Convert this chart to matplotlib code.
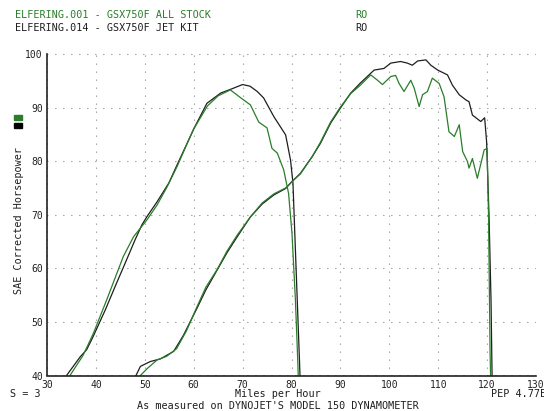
import numpy as np
import matplotlib.pyplot as plt
from matplotlib.patches import Rectangle

# dyno run: ALL STOCK (green) vs JET KIT (black), two traces each
stock_a_mph = [34.2, 34.7, 37.4, 39.5, 42.2, 45.6, 47.7, 49.1, 50.4, 52.5, 54.5, 56.6, 59.0, 60.0,
               62.8, 65.0, 67.5, 69.5, 71.6, 73.3, 75.0, 76.0, 77.1, 78.4, 79.4, 80.1, 80.8, 81.3, 81.5]
stock_a_hp = [39, 40, 43.8, 47.9, 54.1, 62.2, 65.9, 67.5, 69.0, 71.8, 75.1, 79.0, 84.0, 86.0,
              90.3, 92.2, 93.3, 91.9, 90.5, 87.3, 86.2, 82.4, 81.5, 78.4, 74.0, 66.5, 54.1, 42.3, 36]

jet_a_mph = [33.5, 34.0, 36.8, 38.1, 39.3, 41.9, 44.3, 46.0, 48.0, 49.4, 50.4, 52.5, 54.9, 56.6,
             59.0, 60.0, 62.7, 65.5, 67.8, 70.0, 71.5, 73.0, 74.3, 76.4, 78.8, 79.8, 80.3, 80.8,
             81.3, 81.7, 81.9]
jet_a_hp = [39, 40, 43.5, 44.8, 47.0, 52.2, 57.4, 61.0, 65.3, 68.1, 69.6, 72.4, 75.9, 79.3,
            84.0, 86.0, 90.8, 92.7, 93.5, 94.3, 94.0, 93.0, 91.8, 88.3, 84.9, 80.2, 75.9, 63.4,
            51.0, 41.0, 36]

stock_b_mph = [48.7, 49.1, 50.5, 52.5, 54.5, 56.5, 58.5, 60.7, 62.5, 64.8, 66.8, 68.9, 71.6, 74.0,
               76.4, 78.8, 80.1, 81.8, 84.2, 85.9, 88.0, 90.0, 92.1, 94.1, 96.2, 97.6, 98.6, 100.3,
               101.3, 102.0, 103.0, 104.4, 105.1, 106.1, 106.8, 107.8, 108.8, 110.2, 111.2, 112.2,
               113.3, 114.3, 115.0, 116.0, 116.3, 117.0, 118.0, 119.4, 120.0, 120.3, 120.6, 120.8]
stock_b_hp = [39, 40, 41.3, 42.9, 43.6, 45.0, 48.3, 52.9, 56.5, 59.8, 63.2, 66.2, 69.6, 72.2,
              73.9, 75.0, 76.2, 77.6, 80.8, 83.5, 87.3, 90.1, 92.6, 94.2, 96.1, 95.1, 94.3, 95.8,
              96.0, 94.5, 93.0, 95.1, 93.6, 90.2, 92.4, 93.0, 95.5, 94.5, 92.0, 85.5,
              84.6, 86.8, 81.8, 79.9, 78.7, 80.5, 76.8, 82.1, 82.4, 69.6, 44.8, 36]

jet_b_mph = [47.8, 48.2, 49.1, 51.1, 53.2, 55.9, 57.9, 60.7, 62.5, 64.8, 66.8, 68.9, 71.6, 74.0,
             76.4, 78.8, 80.1, 81.8, 84.2, 85.9, 88.0, 90.0, 92.1, 94.1, 96.9, 98.9, 100.3, 102.3,
             103.7, 104.7, 105.8, 107.5, 108.5, 109.9, 111.9, 112.9, 114.3, 115.7, 116.3, 117.0,
             118.7, 119.5, 119.9, 120.4, 120.8, 121.0, 121.1]
jet_b_hp = [39, 40, 41.7, 42.6, 43.1, 44.5, 47.5, 52.6, 56.0, 59.7, 62.9, 65.9, 69.6, 72.0,
            73.7, 74.9, 76.2, 77.7, 80.8, 83.3, 87.1, 89.9, 92.7, 94.6, 97.0, 97.3, 98.3, 98.6,
            98.3, 97.9, 98.7, 98.9, 97.9, 97.0, 96.1, 94.2, 92.4, 91.4, 91.1, 88.6,
            87.4, 88.1, 83.6, 69.6, 54.1, 41.0, 36]

xticks = [30, 40, 50, 60, 70, 80, 90, 100, 110, 120, 130]
yticks = [40, 50, 60, 70, 80, 90, 100]

GREEN = '#2a7d2a'
BLACK = '#1e1e1e'
W, H = 544, 411


def fx(px):
    return px / W


def fy(py):
    return 1 - py / H


fig = plt.figure(figsize=(5.44, 4.11), dpi=100)
ax = fig.add_axes([fx(47), fy(375.5), (536 - 47) / W, (375.5 - 54) / H])

ax.plot(jet_a_mph, jet_a_hp, color=BLACK, lw=0.9)
ax.plot(jet_b_mph, jet_b_hp, color=BLACK, lw=0.9)
ax.plot(stock_a_mph, stock_a_hp, color=GREEN, lw=0.9)
ax.plot(stock_b_mph, stock_b_hp, color=GREEN, lw=0.9)

ax.set_xlim(30, 130)
ax.set_ylim(40, 100)
ax.set_xticks(xticks)
ax.set_yticks(yticks)
ax.tick_params(length=0, labelsize=7, pad=3, colors='#222222')
for lab in ax.get_xticklabels() + ax.get_yticklabels():
    lab.set_family('DejaVu Sans Mono')
ax.grid(True, color='#555555', lw=0.8, linestyle=(0, (0.7, 6.5)))
for s in ['top', 'right']:
    ax.spines[s].set_visible(False)
for s in ['left', 'bottom']:
    ax.spines[s].set_linewidth(1.2)
    ax.spines[s].set_color('#222222')

mono = dict(family='DejaVu Sans Mono', fontsize=7.3)
fig.text(fx(15), fy(15), 'ELFERING.001 - GSX750F ALL STOCK', color=GREEN, va='center', **mono)
fig.text(fx(355), fy(15), 'RO', color=GREEN, va='center', **mono)
fig.text(fx(15), fy(28), 'ELFERING.014 - GSX750F JET KIT', color=BLACK, va='center', **mono)
fig.text(fx(355), fy(28), 'RO', color=BLACK, va='center', **mono)

fig.text(fx(19), fy(221), 'SAE Corrected Horsepower', rotation=90, ha='center', va='center',
         color=BLACK, **mono)
fig.patches.append(Rectangle((fx(14), fy(119.5)), 7.5 / W, 4.5 / H, color=GREEN,
                             transform=fig.transFigure, figure=fig))
fig.patches.append(Rectangle((fx(14), fy(128.3)), 7.5 / W, 5 / H, color='black',
                             transform=fig.transFigure, figure=fig))

fig.text(fx(10), fy(394), 'S = 3', color=BLACK, va='center', **mono)
fig.text(fx(278), fy(394), 'Miles per Hour', color=BLACK, ha='center', va='center', **mono)
fig.text(fx(491), fy(394), 'PEP 4.77E', color=BLACK, va='center', **mono)
fig.text(fx(278), fy(405.5), "As measured on DYNOJET'S MODEL 150 DYNAMOMETER", color=BLACK,
         ha='center', va='center', **mono)

fig.savefig('out.png', dpi=100)
